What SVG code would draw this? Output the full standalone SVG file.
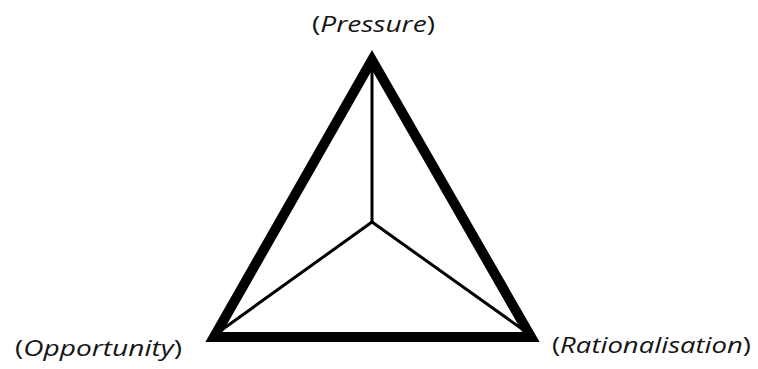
<svg xmlns="http://www.w3.org/2000/svg" width="758" height="369" viewBox="0 0 758 369">
<style>
.lbl{font-family:"Open Sans","Noto Sans",sans-serif;font-size:22.5px;fill:#151515}
.it{font-style:italic}
.outer{fill:none;stroke:#000;stroke-width:10;stroke-linejoin:miter;stroke-miterlimit:10}
.inner{fill:none;stroke:#000;stroke-width:3;stroke-linecap:round}
</style>
<rect width="758" height="369" fill="#fff"/>
<g id="connectors">
<polygon class="outer" points="372,60 214,337 531,337"/>
<line class="inner" x1="372" y1="222" x2="372" y2="62"/>
<line class="inner" x1="372" y1="222" x2="216" y2="334"/>
<line class="inner" x1="372" y1="222" x2="529" y2="334"/>
</g>
<g id="pressure"><text class="lbl" x="312" y="32" textLength="123" lengthAdjust="spacingAndGlyphs">(<tspan class="it">Pressure</tspan>)</text></g>
<g id="opportunity"><text class="lbl" x="15" y="356" textLength="167" lengthAdjust="spacingAndGlyphs">(<tspan class="it">Opportunity</tspan>)</text></g>
<g id="rationalisation"><text class="lbl" x="552" y="353" textLength="199" lengthAdjust="spacingAndGlyphs">(<tspan class="it">Rationalisation</tspan>)</text></g>
</svg>
